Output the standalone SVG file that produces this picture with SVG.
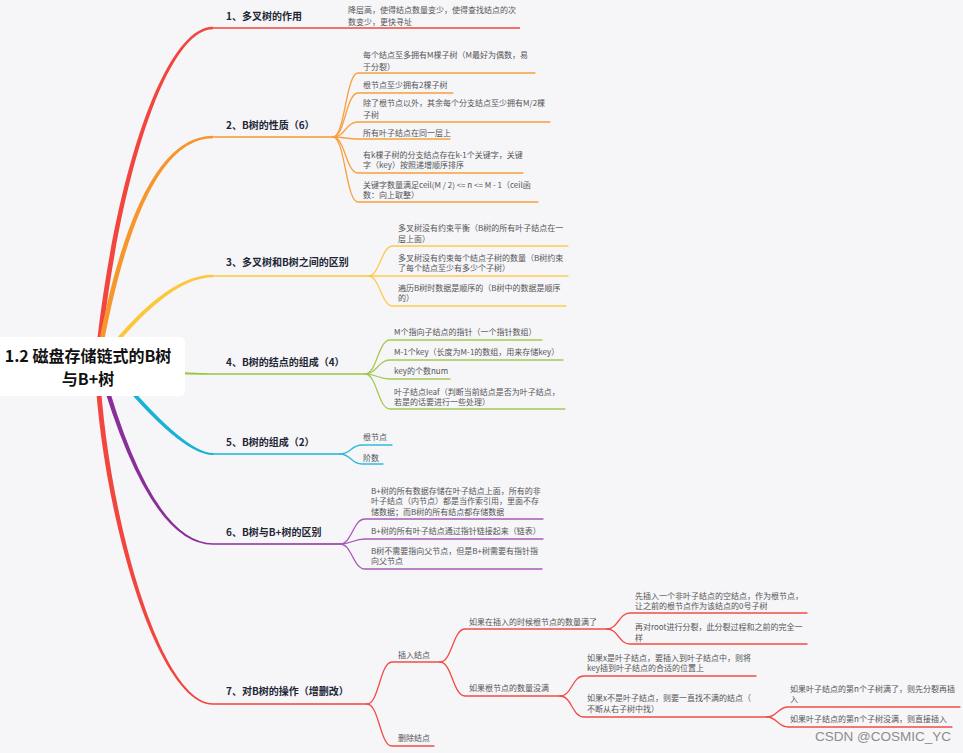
<svg xmlns="http://www.w3.org/2000/svg" width="963" height="753" viewBox="0 0 963 753">
<style>
.rt{font-weight:bold;font-size:16px;font-family:"Noto Sans CJK SC","Noto Sans",sans-serif;fill:#111}
.bl{font-weight:bold;font-size:10px;font-family:"Noto Sans CJK SC","Noto Sans",sans-serif;fill:#222634}
.ct{font-size:8px;font-family:"Noto Sans CJK SC","Noto Sans",sans-serif;fill:#555}
.ln{fill:none;stroke-width:1.3;stroke-linecap:round}
.hl{fill:none;stroke-width:1.6}
.r{stroke:#f2453d}.o{stroke:#f7962b}.y{stroke:#fcc73a}.g{stroke:#9cc63f}.c{stroke:#18b2d6}.p{stroke:#8a2f98}
.rc{stroke:#f04d45}.oc{stroke:#f8a03e}.yc{stroke:#fccb4c}.gc{stroke:#a6c956}.cc{stroke:#2fbadb}.pc{stroke:#a65bb3}
.wm{font-size:13.5px;font-family:"Liberation Sans",Arial,sans-serif;fill:#8c8c8c}
</style>
<rect width="963" height="753" fill="#f6f6f9"/>
<g id="connectors">
  <path fill="#f2453d" d="M94.5,366 C112.5,180 163.5,26.7 213,26.7 L213,29.3 C166.5,29.3 117.5,180 99.5,366 Z"/>
  <path class="hl r" d="M213,28 H520"/>
  <path fill="#f7962b" d="M94.5,366 Q135,135.8 213,135.8 L213,138.2 Q139,138.2 99.5,366 Z"/>
  <path class="hl o" d="M213,137 H333"/>
  <path fill="#fcc73a" d="M94.5,366 Q163,274.8 213,274.8 L213,277.2 Q167,277.2 99.5,366 Z"/>
  <path class="hl y" d="M213,276 H368"/>
  <path fill="#9cc63f" d="M97,363 Q170,373.2 213,373.2 L213,374.8 Q170,375 97,369 Z"/>
  <path class="hl g" d="M213,374 H365"/>
  <path fill="#18b2d6" d="M107.5,366 Q180,455 213,455 L213,453 Q184,453 112.5,366 Z"/>
  <path class="hl c" d="M213,454 H340"/>
  <path fill="#8a2f98" d="M97.5,366 Q148.5,544.8 213,544.8 L213,543.2 Q151.5,543.2 102.5,366 Z"/>
  <path class="hl p" d="M213,544 H340"/>
  <path fill="#f2453d" d="M94.5,366 C102.5,520 158.5,704.8 213,704.8 L213,703.2 C161.5,703.2 107.5,520 99.5,366 Z"/>
  <path class="hl r" d="M213,704 H367"/>
  <path class="ln oc" d="M333,137 C345,137 346,73 358,73 H535"/>
  <path class="ln oc" d="M333,137 C345,137 346,93 358,93 H453"/>
  <path class="ln oc" d="M333,137 C345,137 346,122 358,122 H550"/>
  <path class="ln oc" d="M333,137 C345,137 346,139 358,139 H450"/>
  <path class="ln oc" d="M333,137 C345,137 346,173 358,173 H523"/>
  <path class="ln oc" d="M333,137 C345,137 346,202 358,202 H538"/>
  <path class="ln yc" d="M368,276 C380,276 381,246 393,246 H568"/>
  <path class="ln yc" d="M368,276 H568"/>
  <path class="ln yc" d="M368,276 C380,276 381,306 393,306 H566"/>
  <path class="ln gc" d="M365,374 C377,374 378,340 390,340 H542"/>
  <path class="ln gc" d="M365,374 C377,374 378,360 390,360 H563"/>
  <path class="ln gc" d="M365,374 C377,374 378,379 390,379 H450"/>
  <path class="ln gc" d="M365,374 C377,374 378,409 390,409 H565"/>
  <path class="ln cc" d="M340,454 C351,454 351,445 362,445 H392"/>
  <path class="ln cc" d="M340,454 C351,454 351,464 362,464 H383"/>
  <path class="ln pc" d="M340,544 C352,544 353,519 365,519 H543"/>
  <path class="ln pc" d="M340,544 C352,544 353,539 365,539 H543"/>
  <path class="ln pc" d="M340,544 C352,544 353,569 365,569 H542"/>
  <path class="ln rc" d="M367,704 C379,704 380,662 392,662 H440"/>
  <path class="ln rc" d="M367,704 C379,704 380,746 392,746 H434"/>
  <path class="ln rc" d="M440,662 C452,662 453,629 465,629 H607"/>
  <path class="ln rc" d="M440,662 C452,662 453,696 465,696 H560"/>
  <path class="ln rc" d="M607,629 C618,629 619,613 630,613 H807"/>
  <path class="ln rc" d="M607,629 C618,629 619,644 630,644 H807"/>
  <path class="ln rc" d="M560,696 C572,696 572,676 584,676 H756"/>
  <path class="ln rc" d="M560,696 C572,696 572,717 584,717 H767"/>
  <path class="ln rc" d="M767,717 C777,717 778,707 788,707 H960"/>
  <path class="ln rc" d="M767,717 C777,717 778,727 788,727 H952"/>
</g>
<g id="root">
  <rect x="-6" y="337" width="191" height="59" rx="5" fill="#fff"/>
  <text class="rt" x="88" y="362" text-anchor="middle">1.2 磁盘存储链式的B树</text>
  <text class="rt" x="88" y="385" text-anchor="middle">与B+树</text>
</g>
<g id="b1"><text class="bl" x="226" y="19.5">1、多叉树的作用</text></g>
<g id="b1c1"><text class="ct" x="348" y="13">降层高，使得结点数量变少，使得查找结点的次</text><text class="ct" x="348" y="25">数变少，更快寻址</text></g>
<g id="b2"><text class="bl" x="226" y="129">2、B树的性质（6）</text></g>
<g id="b2c1"><text class="ct" x="363" y="58">每个结点至多拥有M棵子树（M最好为偶数，易</text><text class="ct" x="363" y="70">于分裂）</text></g>
<g id="b2c2"><text class="ct" x="363" y="88">根节点至少拥有2棵子树</text></g>
<g id="b2c3"><text class="ct" x="363" y="106">除了根节点以外，其余每个分支结点至少拥有M/2棵</text><text class="ct" x="363" y="118">子树</text></g>
<g id="b2c4"><text class="ct" x="363" y="136">所有叶子结点在同一层上</text></g>
<g id="b2c5"><text class="ct" x="363" y="158">有k棵子树的分支结点存在k-1个关键字，关键</text><text class="ct" x="363" y="168">字（key）按照递增顺序排序</text></g>
<g id="b2c6"><text class="ct" x="363" y="188">关键字数量满足ceil(M / 2) &lt;= n &lt;= M - 1（ceil函</text><text class="ct" x="363" y="198">数：向上取整）</text></g>
<g id="b3"><text class="bl" x="226" y="266">3、多叉树和B树之间的区别</text></g>
<g id="b3c1"><text class="ct" x="398" y="231">多叉树没有约束平衡（B树的所有叶子结点在一</text><text class="ct" x="398" y="242">层上面）</text></g>
<g id="b3c2"><text class="ct" x="398" y="261">多叉树没有约束每个结点子树的数量（B树约束</text><text class="ct" x="398" y="271">了每个结点至少有多少个子树）</text></g>
<g id="b3c3"><text class="ct" x="398" y="291">遍历B树时数据是顺序的（B树中的数据是顺序</text><text class="ct" x="398" y="301">的）</text></g>
<g id="b4"><text class="bl" x="226" y="366">4、B树的结点的组成（4）</text></g>
<g id="b4c1"><text class="ct" x="394" y="335">M个指向子结点的指针（一个指针数组）</text></g>
<g id="b4c2"><text class="ct" x="394" y="355">M-1个key（长度为M-1的数组，用来存储key）</text></g>
<g id="b4c3"><text class="ct" x="394" y="374">key的个数num</text></g>
<g id="b4c4"><text class="ct" x="394" y="395">叶子结点leaf（判断当前结点是否为叶子结点，</text><text class="ct" x="394" y="405">若是的话要进行一些处理）</text></g>
<g id="b5"><text class="bl" x="226" y="446">5、B树的组成（2）</text></g>
<g id="b5c1"><text class="ct" x="363" y="440">根节点</text></g>
<g id="b5c2"><text class="ct" x="363" y="461">阶数</text></g>
<g id="b6"><text class="bl" x="226" y="536">6、B树与B+树的区别</text></g>
<g id="b6c1"><text class="ct" x="371" y="494">B+树的所有数据存储在叶子结点上面，所有的非</text><text class="ct" x="371" y="504">叶子结点（内节点）都是当作索引用，里面不存</text><text class="ct" x="371" y="515">储数据；而B树的所有结点都存储数据</text></g>
<g id="b6c2"><text class="ct" x="371" y="534">B+树的所有叶子结点通过指针链接起来（链表）</text></g>
<g id="b6c3"><text class="ct" x="371" y="554">B树不需要指向父节点，但是B+树需要有指针指</text><text class="ct" x="371" y="564">向父节点</text></g>
<g id="b7"><text class="bl" x="226" y="695">7、对B树的操作（增删改）</text></g>
<g id="b7c1"><text class="ct" x="398" y="658">插入结点</text></g>
<g id="b7c2"><text class="ct" x="398" y="741">删除结点</text></g>
<g id="b7c1a"><text class="ct" x="469" y="625">如果在插入的时候根节点的数量满了</text></g>
<g id="b7c1b"><text class="ct" x="469" y="691">如果根节点的数量没满</text></g>
<g id="b7c1a1"><text class="ct" x="635" y="599">先插入一个非叶子结点的空结点，作为根节点，</text><text class="ct" x="635" y="609">让之前的根节点作为该结点的0号子树</text></g>
<g id="b7c1a2"><text class="ct" x="635" y="630">再对root进行分裂，此分裂过程和之前的完全一</text><text class="ct" x="635" y="641">样</text></g>
<g id="b7c1b1"><text class="ct" x="587" y="661">如果x是叶子结点，要插入到叶子结点中，则将</text><text class="ct" x="587" y="671">key插到叶子结点的合适的位置上</text></g>
<g id="b7c1b2"><text class="ct" x="587" y="701">如果x不是叶子结点，则要一直找不满的结点（</text><text class="ct" x="587" y="712">不断从右子树中找）</text></g>
<g id="b7c1b2a"><text class="ct" x="790" y="692">如果叶子结点的第n个子树满了，则先分裂再插</text><text class="ct" x="790" y="702">入</text></g>
<g id="b7c1b2b"><text class="ct" x="790" y="722">如果叶子结点的第n个子树没满，则直接插入</text></g>
<text class="wm" x="815" y="741">CSDN @COSMIC_YC</text>
</svg>
